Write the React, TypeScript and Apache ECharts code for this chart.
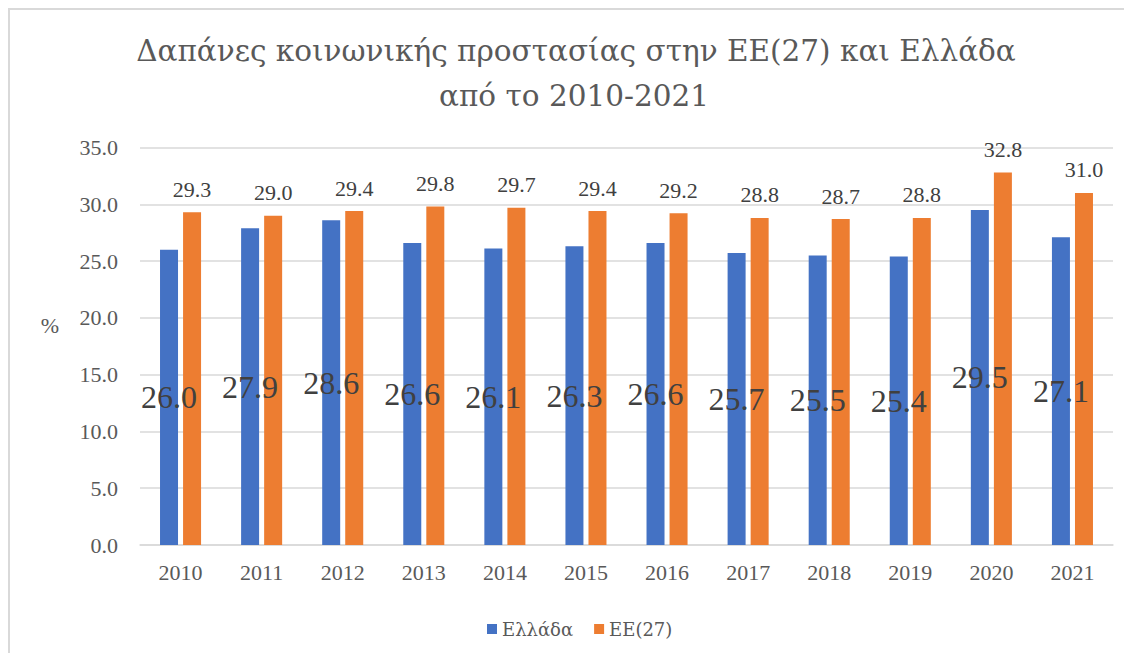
import React, { useEffect, useRef } from "react";
import * as echarts from "echarts";

const categories = ["2010", "2011", "2012", "2013", "2014", "2015", "2016", "2017", "2018", "2019", "2020", "2021"];
const greece = [26.0, 27.9, 28.6, 26.6, 26.1, 26.3, 26.6, 25.7, 25.5, 25.4, 29.5, 27.1];
const eu27 = [29.3, 29.0, 29.4, 29.8, 29.7, 29.4, 29.2, 28.8, 28.7, 28.8, 32.8, 31.0];
const seriesNames = ["Ελλάδα", "ΕΕ(27)"];
const titleLines = ["Δαπάνες κοινωνικής προστασίας στην ΕΕ(27) και Ελλάδα", "από το 2010-2021"];
const yAxisName = "%";

const FONT = "Liberation Serif, DejaVu Serif, serif";
const GREEK_FONT = "DejaVu Serif";

export default function App() {
  const ref = useRef<HTMLDivElement>(null);
  useEffect(() => {
    if (!ref.current) return;
    const chart = echarts.init(ref.current, undefined, { renderer: "svg" });
    chart.setOption({
      animation: false,
      backgroundColor: "#ffffff",
      textStyle: { fontFamily: FONT },
      graphic: [
        {
          type: "text",
          style: {
            text: titleLines[0],
            x: 566,
            y: 41,
            align: "center",
            verticalAlign: "middle",
            fontFamily: GREEK_FONT,
            fontSize: 29.5,
            fill: "#595959",
          },
        },
        {
          type: "text",
          style: {
            text: titleLines[1],
            x: 564,
            y: 86,
            align: "center",
            verticalAlign: "middle",
            fontFamily: GREEK_FONT,
            fontSize: 29.5,
            fill: "#595959",
          },
        },
        {
          type: "text",
          style: {
            text: yAxisName,
            x: 40,
            y: 315,
            align: "center",
            verticalAlign: "middle",
            fontFamily: FONT,
            fontSize: 22,
            fill: "#595959",
          },
        },
      ],
      legend: {
        bottom: 10,
        left: 472,
        itemWidth: 10,
        itemHeight: 10,
        itemGap: 21,
        icon: "rect",
        textStyle: { fontFamily: GREEK_FONT, fontSize: 18, color: "#595959" },
        data: seriesNames,
      },
      grid: { left: 130, right: 19, top: 137.5, bottom: 108 },
      xAxis: {
        type: "category",
        data: categories,
        axisLine: { lineStyle: { color: "#d9d9d9", width: 1.5 } },
        axisTick: { show: false },
        axisLabel: { fontFamily: FONT, fontSize: 22, color: "#595959", margin: 16 },
      },
      yAxis: {
        type: "value",
        min: 0,
        max: 35,
        interval: 5,
        axisLine: { show: false },
        axisTick: { show: false },
        axisLabel: {
          fontFamily: FONT,
          fontSize: 22,
          color: "#595959",
          margin: 22,
          formatter: (v: number) => v.toFixed(1),
        },
        splitLine: { lineStyle: { color: "#d9d9d9", width: 1.5 } },
      },
      series: [
        {
          name: seriesNames[0],
          type: "bar",
          data: greece,
          barWidth: 18,
          barGap: "28%",
          itemStyle: { color: "#4472c4" },
          label: {
            show: true,
            position: "inside",
            fontFamily: FONT,
            fontSize: 32,
            color: "#404040",
            formatter: (p: any) => Number(p.value).toFixed(1),
          },
        },
        {
          name: seriesNames[1],
          type: "bar",
          data: eu27,
          barWidth: 18,
          itemStyle: { color: "#ed7d31" },
          label: {
            show: true,
            position: "top",
            distance: 12,
            fontFamily: FONT,
            fontSize: 22,
            color: "#404040",
            formatter: (p: any) => Number(p.value).toFixed(1),
          },
        },
      ],
    });
    return () => chart.dispose();
  }, []);
  return (
    <div
      style={{
        width: 1124,
        height: 645,
        boxSizing: "border-box",
        borderTop: "2px solid #d9d9d9",
        borderLeft: "2px solid #d9d9d9",
        overflow: "hidden",
      }}
    >
      <div ref={ref} style={{ width: 1122, height: 643 }} />
    </div>
  );
}
